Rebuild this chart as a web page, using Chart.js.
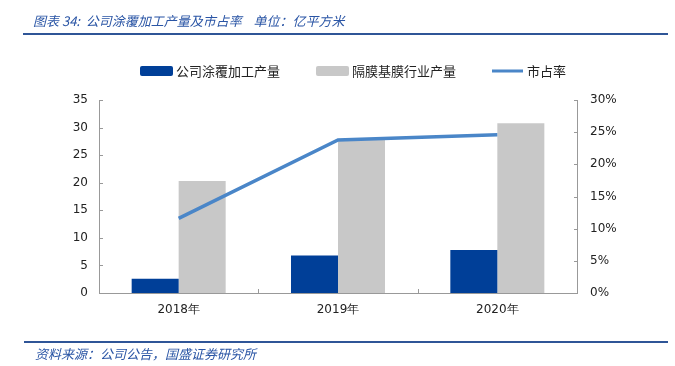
<!DOCTYPE html>
<html><head><meta charset="utf-8">
<script src="https://cdn.jsdelivr.net/npm/chart.js@4/dist/chart.umd.min.js"></script>
<style>
html,body{margin:0;padding:0;background:#fff;}
#wrap{position:relative;width:675px;height:366px;overflow:hidden;}
#title{position:absolute;left:33px;top:12px;font:italic 13px "Noto Sans CJK SC";color:#2A55A5;white-space:pre;line-height:18px;}
#rule1{position:absolute;left:23px;top:33px;width:645px;height:2px;background:#2F5597;}
#rule2{position:absolute;left:24px;top:341px;width:644px;height:2px;background:#2F5597;}
#src{position:absolute;left:35px;top:345px;font:italic 13px "Noto Sans CJK SC";color:#2A55A5;letter-spacing:0px;white-space:pre;line-height:18px;}
canvas{position:absolute;left:0;top:0;}
</style></head>
<body><div id="wrap">
<canvas id="c" width="675" height="366"></canvas>
<div id="title">图表 34:  公司涂覆加工产量及市占率    单位：亿平方米</div>
<div id="rule1"></div>
<div id="rule2"></div>
<div id="src">资料来源：公司公告，国盛证券研究所</div>
</div>
<script>
const categories = ['2018年', '2019年', '2020年'];
const companyOutput = [2.6, 6.8, 7.8];
const industryOutput = [20.3, 27.8, 30.8];
const marketShare = [11.6, 23.8, 24.6];
const leftTicks = [0, 5, 10, 15, 20, 25, 30, 35];
const rightTicks = [0, 5, 10, 15, 20, 25, 30];

const legendPlugin = {
  id: 'customLegend',
  afterDraw(chart) {
    const ctx = chart.ctx;
    ctx.save();
    ctx.font = '13px "Noto Sans CJK SC"';
    ctx.textBaseline = 'middle';
    let x = 140;
    const yc = 71;
    chart.data.datasets.forEach(ds => {
      if (ds.type === 'line') {
        ctx.fillStyle = ds.borderColor;
        ctx.fillRect(x, yc - 1.5, 31, 3);
        x += 35;
      } else {
        ctx.fillStyle = ds.backgroundColor;
        ctx.beginPath();
        if (ctx.roundRect) ctx.roundRect(x, yc - 5, 33, 10, 2); else ctx.rect(x, yc - 5, 33, 10);
        ctx.fill();
        x += 36;
      }
      ctx.fillStyle = '#222';
      ctx.fillText(ds.label, x, yc);
      x += ctx.measureText(ds.label).width + 36;
    });
    ctx.restore();
  }
};

const tickPlugin = {
  id: 'innerTicks',
  afterDraw(chart) {
    const ctx = chart.ctx;
    const a = chart.chartArea;
    const sy = chart.scales.y, sy1 = chart.scales.y1, sx = chart.scales.x;
    ctx.save();
    ctx.strokeStyle = '#999';
    ctx.lineWidth = 1;
    ctx.beginPath();
    leftTicks.forEach(v => { const p = Math.round(sy.getPixelForValue(v)) + 0.5; ctx.moveTo(a.left, p); ctx.lineTo(a.left + 4, p); });
    rightTicks.forEach(v => { const p = Math.round(sy1.getPixelForValue(v)) + 0.5; ctx.moveTo(a.right - 3, p); ctx.lineTo(a.right, p); });
    for (let i = 1; i < categories.length; i++) {
      const p = Math.round((sx.getPixelForValue(i - 1) + sx.getPixelForValue(i)) / 2) + 0.5;
      ctx.moveTo(p, a.bottom); ctx.lineTo(p, a.bottom - 4);
    }
    ctx.stroke();
    ctx.restore();
  }
};

new Chart(document.getElementById('c'), {
  data: {
    labels: categories,
    datasets: [
      { type: 'bar', label: '公司涂覆加工产量', data: companyOutput, backgroundColor: '#003F98', yAxisID: 'y', order: 2,
        categoryPercentage: 0.59, barPercentage: 1.0 },
      { type: 'bar', label: '隔膜基膜行业产量', data: industryOutput, backgroundColor: '#C8C8C8', yAxisID: 'y', order: 3,
        categoryPercentage: 0.59, barPercentage: 1.0 },
      { type: 'line', label: '市占率', data: marketShare, borderColor: '#4A86C8', backgroundColor: '#4A86C8', borderWidth: 3.5,
        pointRadius: 0, tension: 0, yAxisID: 'y1', order: 1 }
    ]
  },
  options: {
    responsive: false,
    animation: false,
    layout: { padding: { top: 100, left: 0, right: 0, bottom: 43 } },
    plugins: { legend: { display: false }, tooltip: { enabled: false } },
    scales: {
      x: {
        grid: { display: false, drawTicks: false },
        border: { color: '#999', width: 1 },
        ticks: { color: '#222', font: { family: 'DejaVu Sans', size: 12 }, padding: 10 },
        afterFit(s) { s.height = 30; }
      },
      y: {
        position: 'left', min: 0, max: 35,
        grid: { display: false, drawTicks: false },
        border: { color: '#999', width: 1 },
        ticks: { stepSize: 5, color: '#222', font: { family: 'DejaVu Sans', size: 12 }, padding: 11 },
        afterBuildTicks(s) { s.ticks = leftTicks.map(v => ({ value: v })); },
        afterFit(s) { s.width = 99; }
      },
      y1: {
        position: 'right', min: 0, max: 30,
        grid: { display: false, drawTicks: false },
        border: { color: '#999', width: 1 },
        ticks: { stepSize: 5, color: '#222', font: { family: 'DejaVu Sans', size: 12 }, padding: 13,
          callback: v => v + '%' },
        afterBuildTicks(s) { s.ticks = rightTicks.map(v => ({ value: v })); },
        afterFit(s) { s.width = 98; }
      }
    }
  },
  plugins: [legendPlugin, tickPlugin]
});
</script>
</body></html>
